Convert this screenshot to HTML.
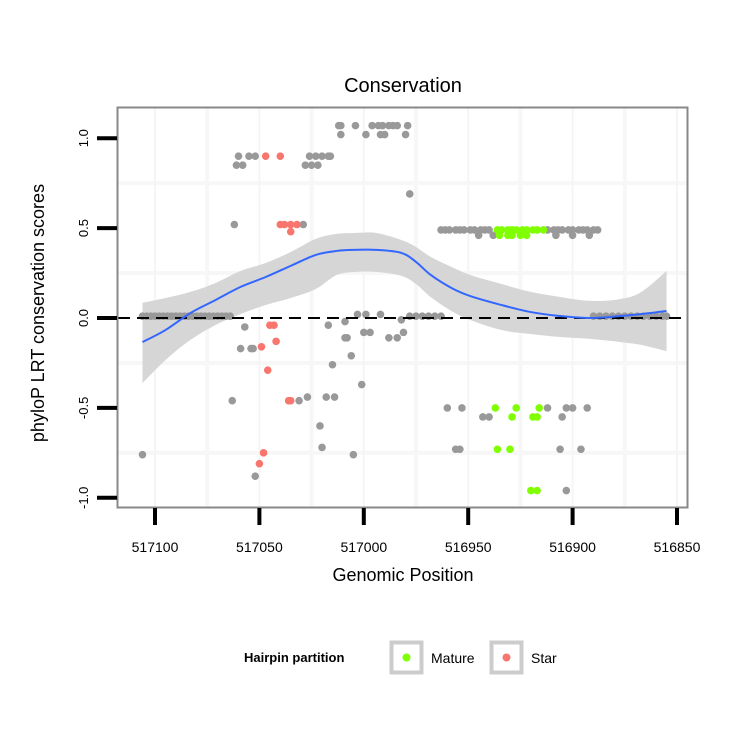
<!DOCTYPE html>
<html><head><meta charset="utf-8">
<style>
body{margin:0;background:#fff;}
svg{display:block;font-family:"Liberation Sans",sans-serif;}
</style></head>
<body>
<svg id="chart" width="750" height="750" viewBox="0 0 750 750">
<rect x="0" y="0" width="750" height="750" fill="#fff"/>
<g id="grid"></g>
<g id="band"></g>
<g id="pts"></g>
<line id="zeroline" stroke="#000" stroke-width="2" stroke-dasharray="12,7"/>
<g id="smooth"></g>
<rect x="117.5" y="107.5" width="570" height="400" fill="none" stroke="#888" stroke-width="2"/>
<g id="axes"></g>
<text x="403" y="92" text-anchor="middle" font-size="20">Conservation</text>
<text x="403" y="581" text-anchor="middle" font-size="18">Genomic Position</text>
<text transform="translate(44,313) rotate(-90)" text-anchor="middle" font-size="18">phyloP LRT conservation scores</text>
<g>
<text x="244" y="662" font-size="13" font-weight="bold">Hairpin partition</text>
<g>
<rect x="391.5" y="642.5" width="30" height="30" fill="#fff" stroke="#ccc" stroke-width="4"/>
<circle cx="406.5" cy="657.5" r="4" fill="#7FFF00"/>
<text x="431" y="663" font-size="14">Mature</text>
</g>
<g>
<rect x="491.5" y="642.5" width="30" height="30" fill="#fff" stroke="#ccc" stroke-width="4"/>
<circle cx="506.5" cy="657.5" r="4" fill="#F8766D"/>
<text x="531" y="663" font-size="14">Star</text>
</g>
</g>
</svg>
<script>
const xTicks=[517100,517050,517000,516950,516900,516850];
const xTickLabels=["517100","517050","517000","516950","516900","516850"];
const yTicks=[1.0,0.5,0.0,-0.5,-1.0];
const yTickLabels=["1.0","0.5","0.0","-0.5","-1.0"];

const grayPos=[517012,517011,517004,516996,516993,516991,516988,516986,516984,516979,
517011,516999,516992,516990,516980,
517060,517055,517052,517026,517023,517020,517017,517016,
517061,517058,517028,517025,517022,
516978,517062,517029,
517106,517104,517102,517100,517098,517096,517094,517092,517090,517088,517086,517084,517082,517080,517078,517076,517074,517072,517070,517068,517066,517064,
516978,516975,516972,516969,516966,516963,
516890,516887,516884,516881,516878,516875,516872,516869,516866,516863,516860,516857,516855,
517003,516999,516992,
517057,517017,517009,516982,
517059,517054,517053,
517009,517008,517000,516997,516988,516984,516981,
517006,517015,517001,
517063,517031,517027,517018,517014,
517021,517020,517106,517005,517052,
516963,516961,516959,516956,516954,516952,516949,516947,516944,516942,516940,
516912,516909,516907,516905,516902,516900,516897,516895,516893,516890,516888,
516945,516938,516908,516900,516892,
516960,516953,516912,516903,516900,516893,
516943,516940,516905,
516956,516954,516906,516896,
516903];
const grayVal=[1.07,1.07,1.07,1.07,1.07,1.07,1.07,1.07,1.07,1.07,
1.02,1.02,1.02,1.02,1.02,
0.90,0.90,0.90,0.90,0.90,0.90,0.90,0.90,
0.85,0.85,0.85,0.85,0.85,
0.69,0.52,0.52,
0.01,0.01,0.01,0.01,0.01,0.01,0.01,0.01,0.01,0.01,0.01,0.01,0.01,0.01,0.01,0.01,0.01,0.01,0.01,0.01,0.01,0.01,
0.01,0.01,0.01,0.01,0.01,0.01,
0.01,0.01,0.01,0.01,0.01,0.01,0.01,0.01,0.01,0.01,0.01,0.01,0.01,
0.02,0.02,0.02,
-0.05,-0.04,-0.02,-0.01,
-0.17,-0.17,-0.17,
-0.11,-0.11,-0.08,-0.08,-0.11,-0.11,-0.08,
-0.21,-0.26,-0.37,
-0.46,-0.46,-0.44,-0.44,-0.44,
-0.60,-0.72,-0.76,-0.76,-0.88,
0.49,0.49,0.49,0.49,0.49,0.49,0.49,0.49,0.49,0.49,0.49,
0.49,0.49,0.49,0.49,0.49,0.49,0.49,0.49,0.49,0.49,0.49,
0.46,0.46,0.46,0.46,0.46,
-0.50,-0.50,-0.50,-0.50,-0.50,-0.50,
-0.55,-0.55,-0.55,
-0.73,-0.73,-0.73,-0.73,
-0.96];
const starPos=[517047,517040,517040,517038,517035,517032,517035,517045,517043,517049,517042,517046,517036,517035,517048,517050];
const starVal=[0.90,0.90,0.52,0.52,0.52,0.52,0.48,-0.04,-0.04,-0.16,-0.13,-0.29,-0.46,-0.46,-0.75,-0.81];
const maturePos=[516936,516934,516931,516929,516927,516924,516922,516919,516917,516914,516935,516931,516929,516925,516922,516937,516927,516916,516929,516919,516917,516936,516930,516920,516917];
const matureVal=[0.49,0.49,0.49,0.49,0.49,0.49,0.49,0.49,0.49,0.49,0.46,0.46,0.46,0.46,0.46,-0.50,-0.50,-0.50,-0.55,-0.55,-0.55,-0.73,-0.73,-0.96,-0.96];

const smoothPos=[517106,517095,517083,517071,517059,517047,517035,517023,517013,517004,516994,516982,516975,516968,516958,516949,516934,516920,516906,516891,516877,516867,516855];
const smoothFit=[-0.134,-0.067,0.028,0.100,0.173,0.228,0.290,0.351,0.373,0.379,0.379,0.362,0.312,0.240,0.167,0.122,0.072,0.033,0.011,0.0,0.011,0.022,0.039];
const smoothUpper=[0.084,0.111,0.145,0.195,0.262,0.306,0.367,0.44,0.468,0.473,0.473,0.434,0.395,0.340,0.284,0.239,0.189,0.145,0.117,0.095,0.106,0.145,0.262];
const smoothLower=[-0.362,-0.234,-0.122,-0.039,0.022,0.072,0.111,0.161,0.239,0.256,0.256,0.234,0.189,0.117,0.039,-0.011,-0.067,-0.089,-0.106,-0.117,-0.134,-0.150,-0.184];

const NS="http://www.w3.org/2000/svg";
function xS(v){return 155+(517100-v)*2.088;}
function yS(v){return 318-v*179.8;}
function mk(tag,attrs,parent){const e=document.createElementNS(NS,tag);for(const k in attrs)e.setAttribute(k,attrs[k]);parent.appendChild(e);return e;}
function curve(P,start){
  let s=start?('M'+P[0][0]+','+P[0][1]):('L'+P[0][0]+','+P[0][1]);
  for(let i=0;i<P.length-1;i++){
    const p0=P[i-1]||P[i],p1=P[i],p2=P[i+1],p3=P[i+2]||P[i+1];
    const c1=[p1[0]+(p2[0]-p0[0])/6,p1[1]+(p2[1]-p0[1])/6];
    const c2=[p2[0]-(p3[0]-p1[0])/6,p2[1]-(p3[1]-p1[1])/6];
    s+='C'+c1[0]+','+c1[1]+' '+c2[0]+','+c2[1]+' '+p2[0]+','+p2[1];
  }
  return s;
}

const grid=document.getElementById('grid');
for(let i=0;i<xTicks.length-1;i++){
  const gx=xS((xTicks[i]+xTicks[i+1])/2);
  const l=mk('line',{x1:gx,x2:gx,y1:108,y2:507,stroke:'#f7f7f7','stroke-width':4},grid);
  
  
}
for(let i=0;i<yTicks.length-1;i++){
  const gy=yS((yTicks[i]+yTicks[i+1])/2);
  const l=mk('line',{x1:118,x2:687,y1:gy,y2:gy,stroke:'#f7f7f7','stroke-width':4},grid);
  
  
}
xTicks.forEach(t=>{
  const gx=xS(t);
  const l=mk('line',{x1:gx,x2:gx,y1:108,y2:507,stroke:'#f5f5f5','stroke-width':2},grid);
  
  
});

const band=document.getElementById('band');
const up=smoothPos.map((p,i)=>[xS(p),yS(smoothUpper[i])]);
const lo=smoothPos.map((p,i)=>[xS(p),yS(smoothLower[i])]).reverse();
const bp=mk('path',{d:curve(up,true)+curve(lo,false)+'Z',fill:'#d6d6d6'},band);



const pts=document.getElementById('pts');
grayPos.forEach((p,i)=>{
  const c=mk('circle',{cx:xS(p),cy:yS(grayVal[i]),r:3.8,fill:'#999999'},pts);
  
  
});
starPos.forEach((p,i)=>{
  const c=mk('circle',{cx:xS(p),cy:yS(starVal[i]),r:3.8,fill:'#F8766D'},pts);
  
  
});
maturePos.forEach((p,i)=>{
  const c=mk('circle',{cx:xS(p),cy:yS(matureVal[i]),r:3.8,fill:'#7FFF00'},pts);
  
  
});

const z=document.getElementById('zeroline');
z.setAttribute('x1',118);z.setAttribute('x2',681);z.setAttribute('y1',yS(0));z.setAttribute('y2',yS(0));

const sm=document.getElementById('smooth');
const fp=smoothPos.map((p,i)=>[xS(p),yS(smoothFit[i])]);
const sl=mk('path',{d:curve(fp,true),fill:'none',stroke:'#3366FF','stroke-width':2},sm);



const axes=document.getElementById('axes');
yTicks.forEach((t,i)=>{
  const ty=yS(t);
  const l=mk('line',{x1:97,x2:117,y1:ty,y2:ty,stroke:'#000','stroke-width':4},axes);
  
  
  const tx=mk('text',{transform:'translate(88,'+ty+') rotate(-90)','text-anchor':'middle','font-size':13},axes);
  tx.textContent=yTickLabels[i];
  
  
});
xTicks.forEach((t,i)=>{
  const tx0=xS(t);
  const l=mk('line',{x1:tx0,x2:tx0,y1:508,y2:525,stroke:'#000','stroke-width':4},axes);
  
  
  const tx=mk('text',{x:tx0,y:552,'text-anchor':'middle','font-size':14},axes);
  tx.textContent=xTickLabels[i];
  
  
});
</script>
</body></html>
